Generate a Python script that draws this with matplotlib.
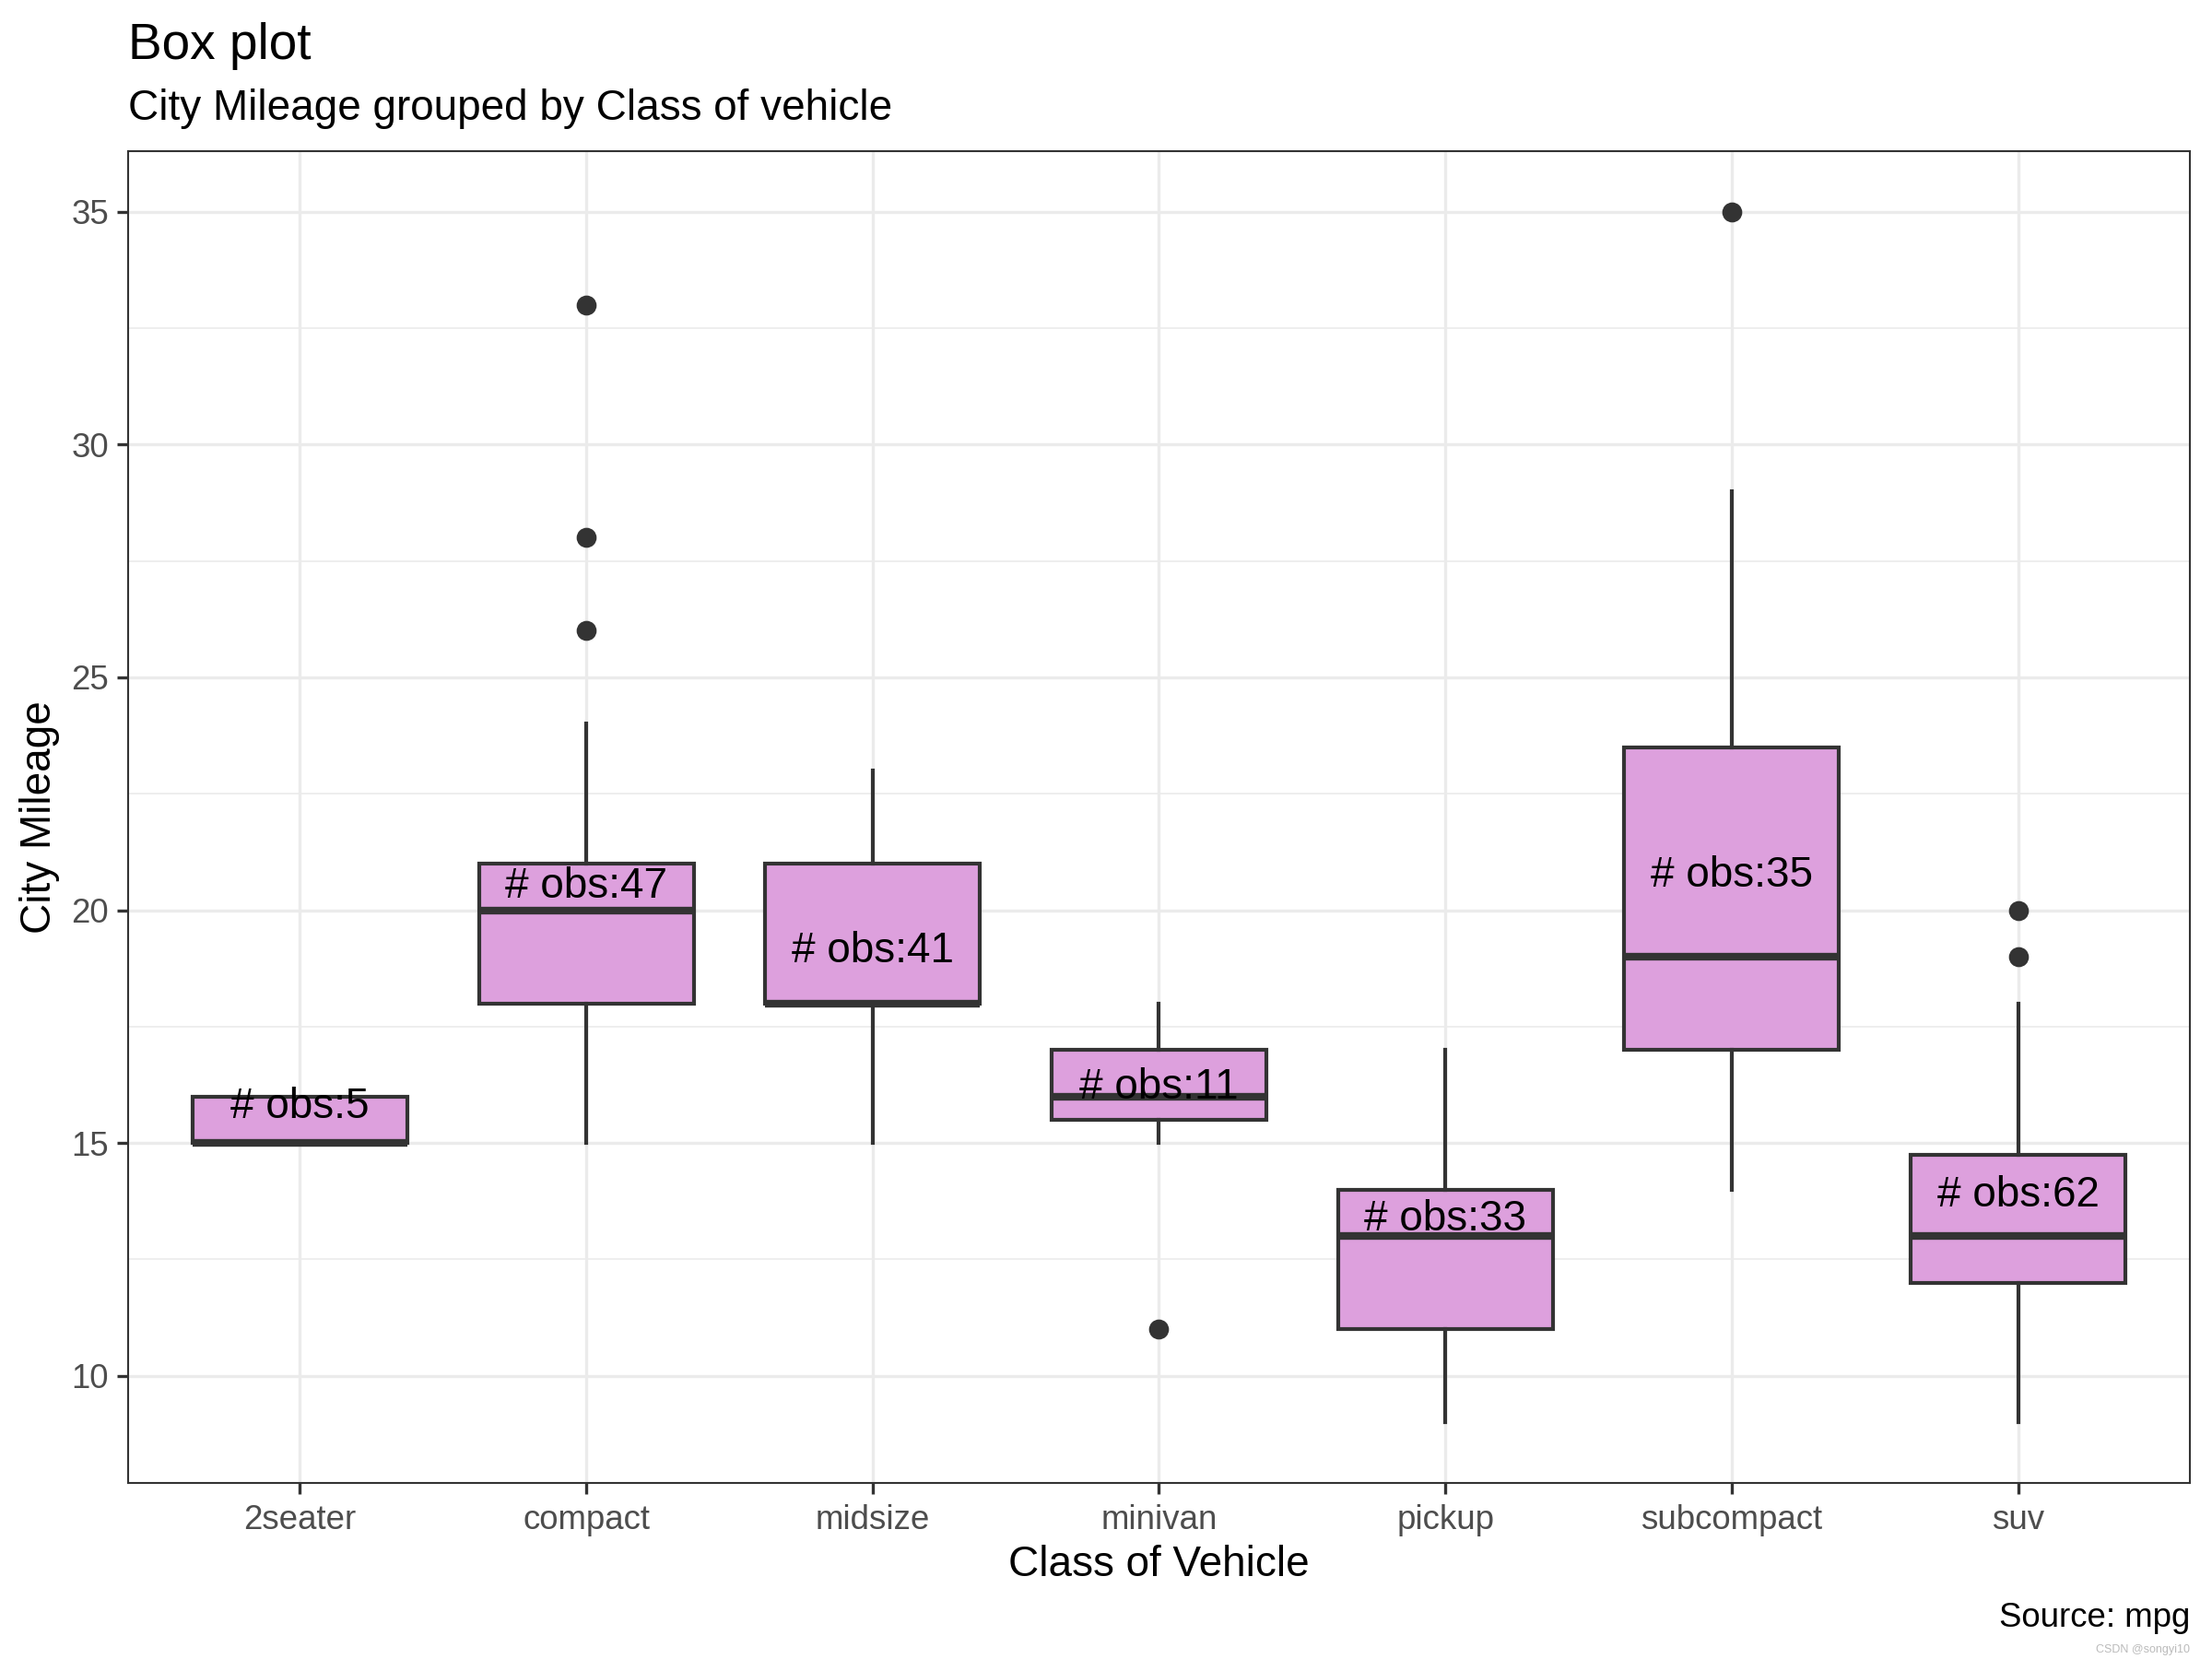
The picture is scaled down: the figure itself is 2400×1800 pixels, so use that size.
import matplotlib
matplotlib.use("Agg")
import matplotlib.pyplot as plt
import numpy as np

plt.rcParams['font.family'] = ['Liberation Sans', 'DejaVu Sans']

# данные: статистики боксплота по классам (mpg, cty)
classes = ["2seater", "compact", "midsize", "minivan", "pickup", "subcompact", "suv"]
whislo = [15, 15, 15, 15, 9, 14, 9]
q1 = [15, 18, 18, 15.5, 11, 17, 12]
med = [15, 20, 18, 16, 13, 19, 13]
q3 = [16, 21, 21, 17, 14, 23.5, 14.75]
whishi = [16, 24, 23, 18, 17, 29, 18]
fliers = [[], [33, 28, 26], [], [11], [], [35], [20, 19]]
n_obs = [5, 47, 41, 11, 33, 35, 62]
means = [15.4, 20.13, 18.76, 15.82, 13.0, 20.37, 13.5]

yticks = [10, 15, 20, 25, 30, 35]
yminor = [12.5, 17.5, 22.5, 27.5, 32.5]

fill = "#DDA0DD"
edge = "#333333"

fig = plt.figure(figsize=(8, 6), dpi=300)
ax_l, ax_b, ax_w, ax_h = 0.0579, 0.1061, 0.9321, 0.8028
ax = fig.add_axes([ax_l, ax_b, ax_w, ax_h])

stats = []
for i, c in enumerate(classes):
    stats.append(dict(label=c, whislo=whislo[i], q1=q1[i], med=med[i],
                      q3=q3[i], whishi=whishi[i], fliers=fliers[i]))

pos = np.arange(1, len(classes) + 1)
ax.bxp(stats, positions=pos, widths=0.75, patch_artist=True, showcaps=False,
       boxprops=dict(facecolor=fill, edgecolor=edge, linewidth=1.0),
       whiskerprops=dict(color=edge, linewidth=1.0),
       medianprops=dict(color=edge, linewidth=2.0, solid_capstyle="butt"),
       flierprops=dict(marker="o", markerfacecolor=edge, markeredgecolor=edge,
                       markersize=4.2, linestyle="none"),
       zorder=3)

# подписи количества наблюдений
for x, m, n in zip(pos, means, n_obs):
    ax.annotate("# obs:%d" % n, (x, m), xytext=(0, 1.6), textcoords="offset points",
                ha="center", va="baseline", fontsize=11, color="black", zorder=5)

ax.set_xlim(0.4, 7.6)
ax.set_ylim(7.7, 36.3)
ax.set_xticks(pos)
ax.set_xticklabels(classes)
ax.set_yticks(yticks)
ax.set_yticks(yminor, minor=True)

ax.grid(True, which="major", color="#EBEBEB", linewidth=0.8, zorder=0)
ax.grid(True, which="minor", axis="y", color="#EBEBEB", linewidth=0.4, zorder=0)
ax.set_axisbelow(True)

ax.tick_params(axis="both", which="major", length=2.8, width=0.8, color=edge,
               labelsize=8.8, labelcolor="#4D4D4D")
ax.tick_params(axis="x", pad=2.6)
ax.tick_params(axis="y", pad=2.2)
ax.tick_params(which="minor", length=0)

for s in ax.spines.values():
    s.set_color(edge)
    s.set_linewidth(0.5)

fig.text(ax_l, 0.9644, "Box plot", fontsize=13.2, ha="left", va="baseline")
fig.text(ax_l, 0.9278, "City Mileage grouped by Class of vehicle", fontsize=11,
         ha="left", va="baseline")
fig.text(0.018, ax_b + ax_h / 2, "City Mileage", fontsize=11, rotation=90,
         ha="center", va="center")
fig.text(ax_l + ax_w / 2, 0.0568, "Class of Vehicle", fontsize=11,
         ha="center", va="center")
fig.text(0.99, 0.0194, "Source: mpg", fontsize=8.8, ha="right", va="baseline")
fig.text(0.99, 0.004, "CSDN @songyi10", fontsize=3, color="#BBBBBB",
         ha="right", va="baseline")

fig.savefig("out.png", dpi=300)
